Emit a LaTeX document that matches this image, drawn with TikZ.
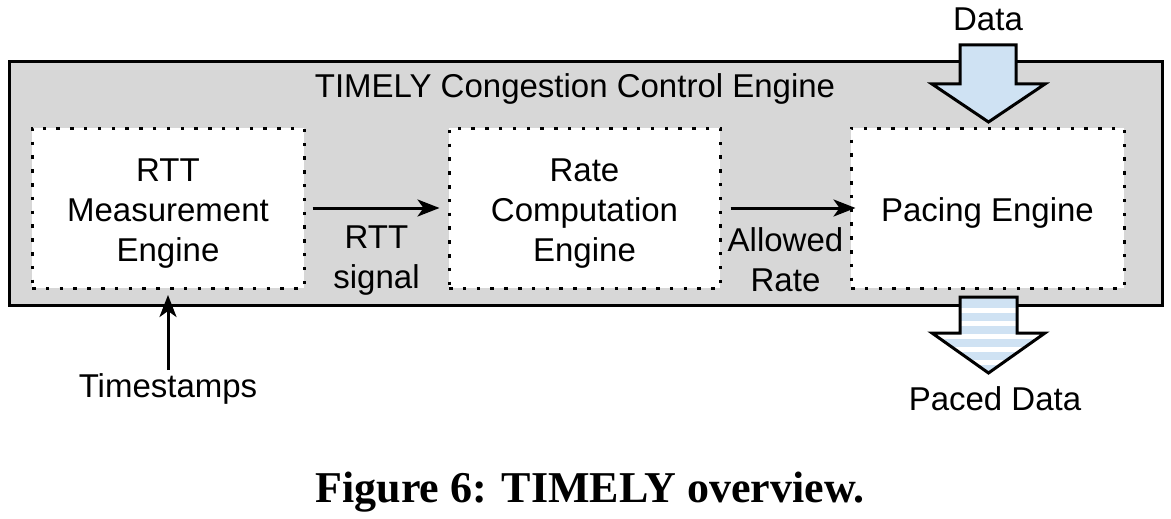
\documentclass[tikz,border=0pt]{standalone}
\usepackage{fontspec}
\setmainfont{Liberation Sans}
\newfontfamily\capfont{Liberation Serif}
\usetikzlibrary{arrows.meta,positioning}
\definecolor{boxgray}{RGB}{215,215,215}
\definecolor{datablue}{RGB}{207,226,243}

\begin{document}
\begin{tikzpicture}[x=1pt, y=-1pt,
  every node/.style={font=\fontsize{33}{40}\selectfont},
  dotline/.style={line width=3pt, dash pattern=on 3.5pt off 10.3pt},
  engbox/.style={dotline, draw, fill=white, minimum width=#1, minimum height=160pt, align=center},
  flow/.style={line width=3pt, -{Stealth[length=22pt,width=17pt,inset=6pt]}},
  blockarrow/.style={line width=3pt, line join=miter}]
\useasboundingbox (0,0) rectangle (1171,519);

\node[draw, line width=3pt, fill=boxgray, minimum width=1153pt, minimum height=243pt] (cce) at (585.5,183.5) {};
\node (title) at (575,89) {TIMELY Congestion Control Engine};

\node[engbox=272pt] (rtt) at (168,208) {\\[-6pt]RTT\\Measurement\\Engine};
\node[engbox=271pt] (rate) at (584.5,208) {\\[-6pt]Rate\\Computation\\Engine};
\node[engbox=273pt, text height=34pt, text depth=7pt] (pace) at (987.5,208) {Pacing Engine};

\draw[flow, shorten <=7pt, shorten >=8pt] (rtt) -- node[below=13pt, align=center] (sig) {RTT\\signal} (rate);
\draw[flow, shorten <=9pt, shorten >=-6pt] (rate) -- node[below=15pt, align=center] (allowed) {Allowed\\Rate} (pace);

\node (ts) at (168,389) {Timestamps};
\draw[flow] (ts.north) -- (168,295);

% data in
\filldraw[blockarrow, fill=datablue] (960,45) -- (1016,45) -- (1016,84) -- (1045,84) -- (988.5,122) -- (932,84) -- (960,84) -- cycle;
\node (data) at (988,19) {Data};

% paced data out
\begin{scope}
\clip (960,297) -- (1017,297) -- (1017,333) -- (1045,333) -- (988.5,373) -- (932,333) -- (960,333) -- cycle;
\fill[datablue] (920,290) rectangle (1060,380);
\foreach \y in {308,321,...,360}
  \fill[white] (920,\y) rectangle (1060,\y+5);
\end{scope}
\draw[blockarrow] (960,297) -- (1017,297) -- (1017,333) -- (1045,333) -- (988.5,373) -- (932,333) -- (960,333) -- cycle;
\node (paced) at (995,399) {Paced Data};

\node[font=\capfont\bfseries\fontsize{44}{50}\selectfont] (cap) at (590,492) {Figure 6: TIMELY overview.};
\end{tikzpicture}
\end{document}
